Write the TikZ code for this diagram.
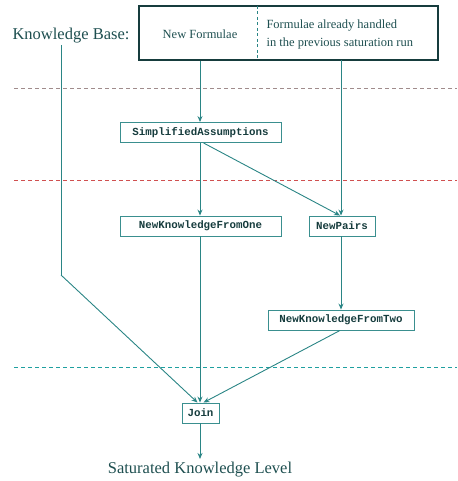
\documentclass[tikz,border=0pt]{standalone}
\usepackage{fontspec}
\setmainfont{Liberation Serif}
\setmonofont{Liberation Mono}
\usetikzlibrary{arrows.meta}
\definecolor{ink}{HTML}{1E4F50}
\definecolor{darkink}{HTML}{163C3D}
\definecolor{tealline}{HTML}{2A8585}
\definecolor{boxline}{HTML}{3A8F8F}
\definecolor{dashA}{HTML}{A08C8C}
\definecolor{dashB}{HTML}{D05050}
\definecolor{dashC}{HTML}{1FA0A0}
\tikzset{
  every node/.style={text=ink},
  procbox/.style={draw=boxline, line width=0.9pt, text=darkink, font=\fontsize{10.8}{12}\ttfamily\bfseries, minimum height=20pt, inner xsep=0pt, inner ysep=0pt},
  flow/.style={draw=tealline, line width=0.9pt, -{Stealth[length=6pt,width=5pt]}},
  plainline/.style={draw=tealline, line width=0.9pt},
  sep/.style={dash pattern=on 4pt off 3pt, line width=0.8pt},
  bigtext/.style={font=\fontsize{16.5}{18}\selectfont},
  midtext/.style={font=\fontsize{12.5}{18}\selectfont}
}
\begin{document}
\begin{tikzpicture}[x=1pt,y=-1pt]
\useasboundingbox (0,0) rectangle (457,481);
% separators
\draw[sep, draw=dashA] (14,88) -- (457,88);
\draw[sep, draw=dashB] (14,180) -- (457,180);
\draw[sep, draw=dashC] (14,367) -- (457,367);
% knowledge base
\node[bigtext] (kb) at (71,36) {Knowledge Base:};
\node[draw=darkink, line width=2.2pt, minimum width=299pt, minimum height=54pt, inner sep=0pt] (tb) at (288.5,33) {};
\coordinate (dvt) at (257,6);
\coordinate (dvb) at (257,60);
\draw[draw=tealline, line width=0.8pt, dash pattern=on 3pt off 2.5pt] (dvt) -- (dvb);
\node[midtext] (nf) at (200,34) {New Formulae};
\node[midtext, align=left, anchor=west] (fa) at (263,34) {Formulae already handled\\in the previous saturation run};
% process boxes
\node[procbox, minimum width=161pt] (sa) at (200.5,132.5) {SimplifiedAssumptions};
\node[procbox, minimum width=161pt] (n1) at (200.5,226) {NewKnowledgeFromOne};
\node[procbox, minimum width=66pt] (np) at (342,226) {NewPairs};
\node[procbox, minimum width=146pt] (n2) at (341,320) {NewKnowledgeFromTwo};
\node[procbox, minimum width=37pt] (jn) at (200.5,413) {Join};
\node[bigtext] (sk) at (200,470) {Saturated Knowledge Level};
% coordinates
\coordinate (kbl) at (61,45);
\coordinate (kbb) at (61,275);
% connectors
\draw[flow] (nf |- tb.south) -- (sa.north -| nf);
\draw[flow] (341,60) -- (np.north -| 341,0);
\draw[flow] (sa.south -| 200,0) -- (n1.north -| 200,0);
\draw[flow] ([xshift=3pt]sa.south) -- ([xshift=-2pt]np.north);
\draw[flow] (np.south -| 341,0) -- (n2.north -| 341,0);
\draw[flow] (n1.south -| 200,0) -- (jn.north -| 200,0);
\draw[plainline] (kbl) -- (kbb);
\draw[flow] (kbb) -- ([xshift=-3pt]jn.north);
\draw[flow] (n2.south -| 340,0) -- ([xshift=3pt]jn.north);
\draw[flow] (jn.south -| 200,0) -- (sk.north -| 200,0);
\end{tikzpicture}
\end{document}
